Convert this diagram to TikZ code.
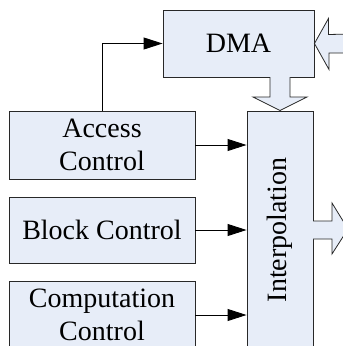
\documentclass[tikz,border=0pt]{standalone}
\usepackage{fontspec}
\setmainfont{Liberation Serif}
\usetikzlibrary{arrows.meta}
\definecolor{boxfill}{RGB}{231,237,248}
\definecolor{boxline}{RGB}{40,40,40}
\tikzset{
  blk/.style={draw=boxline, fill=boxfill, line width=0.9pt, inner sep=0pt, align=center,
    font=\fontsize{28}{33}\selectfont},
  conn/.style={line width=0.9pt, -{Triangle[length=19pt,width=12pt]}},
  hollow/.style={draw=boxline, fill=boxfill, line width=0.8pt, line join=miter}
}
\begin{document}
\begin{tikzpicture}[x=1pt,y=-1pt]
\path[use as bounding box, clip] (0,0) rectangle (343,346);
\node[blk, minimum width=151pt, minimum height=67pt] (dma) at (238.5,43.5) {DMA};
\node[blk, minimum width=66pt, minimum height=238pt] (interp) at (280,230) {};
\node[rotate=90, font=\fontsize{28}{33}\selectfont] (itxt) at (interp.center) {Interpolation};
\node[blk, minimum width=186pt, minimum height=68pt] (acc) at (102,145) {Access\\Control};
\node[blk, minimum width=186pt, minimum height=66pt] (blkc) at (102,230) {Block Control};
\node[blk, minimum width=186pt, minimum height=68pt] (comp) at (102,315) {Computation\\Control};
\draw[conn] (acc.north) |- (dma.west);
\draw[conn] (acc.east) -- (acc.east -| interp.west);
\draw[conn] (blkc.east) -- (blkc.east -| interp.west);
\draw[conn] (comp.east) -- (comp.east -| interp.west);
% hollow arrow into DMA
\draw[hollow] (dma.east) -- ++(14,-25) -- ++(0,16) -- (352,34) -- (352,53) -- (329,53) -- (329,69.5) -- cycle;
% hollow arrow DMA -> Interpolation
\draw[hollow] (270,77) -- (270,97) -- (253,97) -- (interp.north) -- (307,97) -- (290,97) -- (290,77);
% hollow arrow out of Interpolation
\draw[hollow] (313,221) -- (332,221) -- (332,203) -- (348,229) -- (332,254) -- (332,239) -- (313,239);
\end{tikzpicture}
\end{document}
